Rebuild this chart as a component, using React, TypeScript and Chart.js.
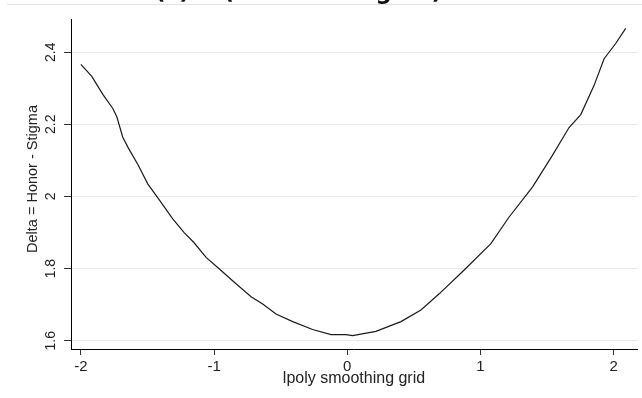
import React, { useEffect, useRef } from "react";
import { Chart, registerables } from "chart.js";

Chart.register(...registerables);

const GRID_X: number[] = [
  -2.0, -1.918, -1.835, -1.76, -1.73, -1.686, -1.643, -1.568, -1.498, -1.41,
  -1.31, -1.223, -1.153, -1.06, -0.96, -0.848, -0.722, -0.635, -0.535, -0.41,
  -0.26, -0.122, -0.01, 0.04, 0.215, 0.403, 0.553, 0.69, 0.878, 1.078,
  1.215, 1.39, 1.54, 1.665, 1.753, 1.853, 1.928, 2.015, 2.09,
];
const DELTA: number[] = [
  2.366, 2.333, 2.283, 2.244, 2.221, 2.165, 2.134, 2.086, 2.035, 1.99,
  1.938, 1.899, 1.873, 1.831, 1.799, 1.762, 1.722, 1.702, 1.674, 1.653,
  1.631, 1.617, 1.617, 1.614, 1.626, 1.653, 1.685, 1.73, 1.796, 1.869,
  1.943, 2.026, 2.114, 2.191, 2.227, 2.308, 2.382, 2.424, 2.466,
];
const X_TICKS: number[] = [-2, -1, 0, 1, 2];
const Y_TICKS: number[] = [1.6, 1.8, 2, 2.2, 2.4];
const TITLE = "(c) Δ (Honor – Stigma)";
const X_TITLE = "lpoly smoothing grid";
const Y_TITLE = "Delta = Honor - Stigma";

const FONT = "'Liberation Sans', Arial, sans-serif";

export default function App() {
  const ref = useRef<HTMLCanvasElement | null>(null);

  useEffect(() => {
    if (!ref.current) return;
    const decor = {
      id: "decor",
      afterDraw(chart: any) {
        const ctx = chart.ctx;
        ctx.save();
        ctx.strokeStyle = "#e2e2e2";
        ctx.lineWidth = 1;
        ctx.beginPath();
        ctx.moveTo(7, 4.5);
        ctx.lineTo(642, 4.5);
        ctx.stroke();
        ctx.fillStyle = "#111";
        ctx.font = "bold 23px 'DejaVu Sans', sans-serif";
        ctx.textAlign = "left";
        ctx.textBaseline = "alphabetic";
        ctx.fillText(TITLE, 155, -1);
        const ys = chart.scales.y;
        ctx.translate(33, (ys.top + ys.bottom) / 2 - 5);
        ctx.rotate(-Math.PI / 2);
        ctx.font = `14.5px ${FONT}`;
        ctx.fillStyle = "#222";
        ctx.textAlign = "center";
        ctx.textBaseline = "middle";
        ctx.fillText(Y_TITLE, 0, 0);
        ctx.restore();
      },
    };

    const chart = new Chart(ref.current, {
      type: "line",
      data: {
        datasets: [
          {
            data: GRID_X.map((x, i) => ({ x, y: DELTA[i] })),
            borderColor: "#1a1a1a",
            borderWidth: 1.2,
            pointRadius: 0,
            tension: 0,
            fill: false,
          },
        ],
      },
      options: {
        animation: false,
        responsive: false,
        events: [],
        layout: { padding: { top: 19, right: 5, left: 0, bottom: 0 } },
        plugins: {
          legend: { display: false },
          tooltip: { enabled: false },
          title: { display: false },
        },
        scales: {
          x: {
            type: "linear",
            min: -2.074,
            max: 2.175,
            afterBuildTicks: (s: any) => {
              s.ticks = X_TICKS.map((v) => ({ value: v }));
            },
            afterFit: (s: any) => {
              s.height = 49;
            },
            grid: {
              drawOnChartArea: false,
              drawTicks: true,
              tickLength: 6,
              tickColor: "#333",
            },
            border: { display: true, color: "#000", width: 1 },
            ticks: {
              padding: 3,
              color: "#1e1e1e",
              font: { family: FONT, size: 15 },
              maxRotation: 0,
              autoSkip: false,
              callback: (v: any) => String(v),
            },
            title: {
              display: true,
              text: X_TITLE,
              color: "#222",
              font: { family: FONT, size: 16 },
              padding: { top: 0, bottom: 10 },
            },
          },
          y: {
            type: "linear",
            min: 1.577,
            max: 2.492,
            afterBuildTicks: (s: any) => {
              s.ticks = Y_TICKS.map((v) => ({ value: v }));
            },
            afterFit: (s: any) => {
              s.width = 71;
            },
            grid: {
              color: "#e8e8e8",
              lineWidth: 1,
              drawTicks: true,
              tickLength: 7,
              tickColor: "#333",
            },
            border: { display: true, color: "#000", width: 1 },
            ticks: {
              minRotation: 90,
              maxRotation: 90,
              crossAlign: "center",
              padding: 3,
              color: "#1e1e1e",
              font: { family: FONT, size: 14 },
              autoSkip: false,
              callback: (v: any) => String(Math.round(Number(v) * 10) / 10),
            },
          },
        },
      },
      plugins: [decor],
    } as any);
    return () => chart.destroy();
  }, []);

  return (
    <div style={{ position: "fixed", left: 0, top: 0, width: 642, height: 398, background: "#fff" }}>
      <canvas ref={ref} width={642} height={398} style={{ display: "block" }} />
    </div>
  );
}
